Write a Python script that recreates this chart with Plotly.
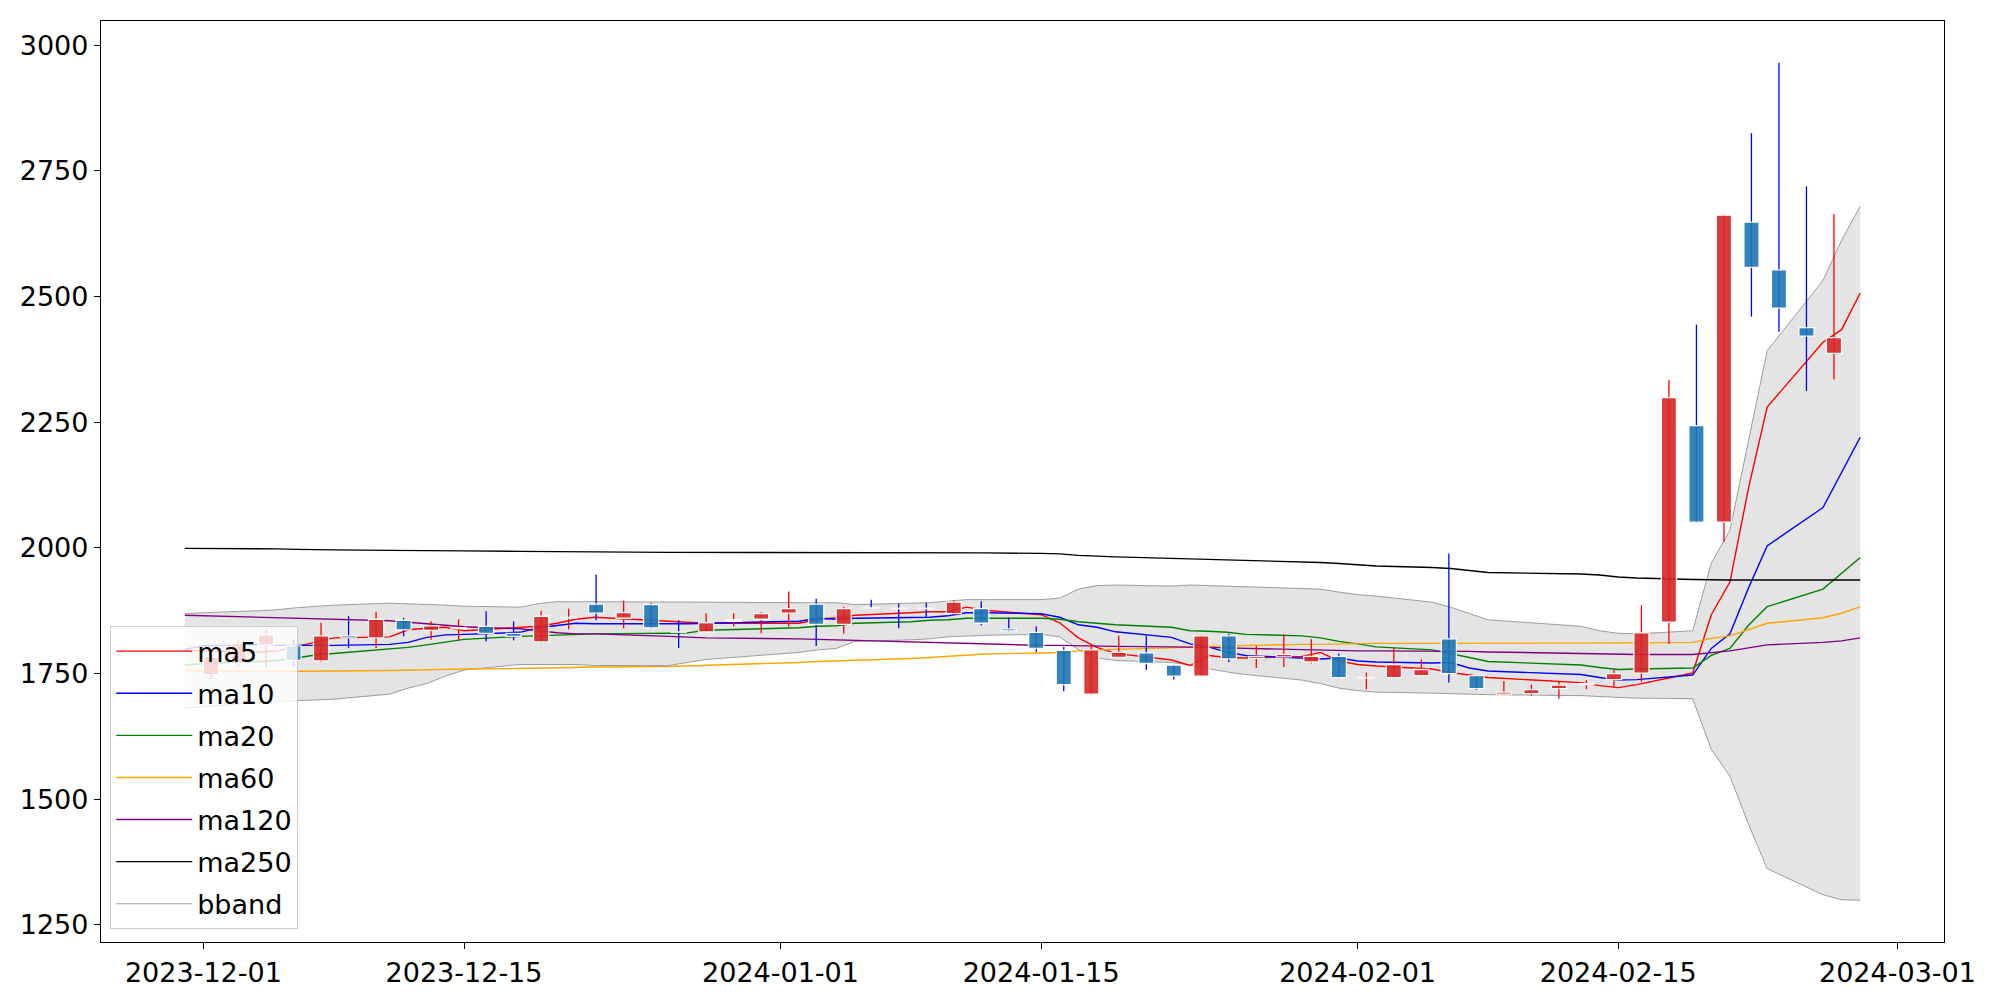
import plotly.graph_objects as go

# ---------------- data ----------------
dates = [
    "2023-11-30", "2023-12-01", "2023-12-04", "2023-12-05", "2023-12-06", "2023-12-07", "2023-12-08",
    "2023-12-11", "2023-12-12", "2023-12-13", "2023-12-14", "2023-12-15",
    "2023-12-18", "2023-12-19", "2023-12-20", "2023-12-21", "2023-12-22",
    "2023-12-26", "2023-12-27", "2023-12-28",
    "2024-01-02", "2024-01-03", "2024-01-04", "2024-01-05",
    "2024-01-08", "2024-01-09", "2024-01-10", "2024-01-11", "2024-01-12",
    "2024-01-15", "2024-01-16", "2024-01-17", "2024-01-18", "2024-01-19",
    "2024-01-22", "2024-01-23", "2024-01-24", "2024-01-25", "2024-01-26",
    "2024-01-29", "2024-01-30", "2024-01-31", "2024-02-01", "2024-02-02",
    "2024-02-05", "2024-02-06", "2024-02-07", "2024-02-08",
    "2024-02-13", "2024-02-14", "2024-02-15", "2024-02-16",
    "2024-02-19", "2024-02-20", "2024-02-21", "2024-02-22", "2024-02-23",
    "2024-02-26", "2024-02-27", "2024-02-28",
]

open_ = [1748, 1770, 1807, 1805, 1775, 1825, 1821, 1856, 1836, 1839,
         1844, 1830, 1813, 1860, 1888, 1860, 1887, 1833, 1833, 1854,
         1858, 1870, 1888, 1848, 1881, 1880, 1880, 1869, 1879, 1839,
         1832, 1796, 1709, 1782, 1791, 1767, 1745, 1825, 1780, 1783,
         1773, 1784, 1741, 1742, 1746, 1819, 1746, 1709, 1710, 1720,
         1728, 1738, 1751, 1852, 2243, 2051, 2648, 2553, 2438, 2387]
high = [1786, 1818, 1837, 1818, 1851, 1864, 1873, 1861, 1854, 1858,
        1874, 1854, 1875, 1879, 1947, 1895, 1890, 1856, 1870, 1870,
        1872, 1913, 1899, 1883, 1897, 1889, 1891, 1896, 1894, 1861,
        1844, 1803, 1808, 1825, 1825, 1768, 1826, 1829, 1805, 1828,
        1818, 1790, 1752, 1801, 1778, 1989, 1747, 1735, 1728, 1734,
        1737, 1758, 1886, 2334, 2444, 2663, 2825, 2965, 2719, 2664]
low = [1739, 1765, 1763, 1765, 1773, 1801, 1801, 1824, 1817, 1816,
       1814, 1816, 1812, 1838, 1856, 1840, 1840, 1801, 1833, 1844,
       1830, 1843, 1805, 1829, 1880, 1840, 1861, 1865, 1846, 1834,
       1793, 1715, 1709, 1781, 1757, 1738, 1744, 1773, 1761, 1763,
       1770, 1742, 1719, 1742, 1746, 1732, 1717, 1709, 1706, 1700,
       1719, 1723, 1734, 1809, 2050, 2012, 2460, 2430, 2312, 2335]
close = [1783, 1809, 1827, 1776, 1825, 1821, 1858, 1837, 1845, 1841,
         1830, 1824, 1864, 1862, 1870, 1871, 1841, 1832, 1851, 1857,
         1869, 1879, 1848, 1879, 1880, 1879, 1879, 1892, 1850, 1835,
         1800, 1728, 1797, 1792, 1770, 1745, 1825, 1779, 1784, 1788,
         1784, 1742, 1742, 1768, 1758, 1750, 1720, 1713, 1718, 1727,
         1730, 1750, 1831, 2299, 2051, 2662, 2558, 2477, 2421, 2418]

ma5 = [1796, 1795, 1793, 1795, 1804, 1812, 1821, 1823, 1837, 1840,
       1842, 1835, 1841, 1844, 1850, 1858, 1862, 1855, 1853, 1850,
       1850, 1858, 1861, 1866, 1871, 1873, 1873, 1882, 1876, 1867,
       1851, 1821, 1802, 1790, 1777, 1766, 1786, 1782, 1781, 1784,
       1792, 1775, 1768, 1765, 1759, 1752, 1747, 1742, 1732, 1726,
       1722, 1728, 1751, 1867, 1932, 2119, 2280, 2409, 2434, 2507]
ma10 = [1798, 1805, 1808, 1806, 1806, 1806, 1806, 1808, 1812, 1822,
        1827, 1828, 1832, 1841, 1845, 1850, 1849, 1848, 1849, 1850,
        1854, 1860, 1858, 1860, 1861, 1862, 1865, 1871, 1871, 1869,
        1862, 1847, 1842, 1833, 1822, 1809, 1803, 1792, 1786, 1781,
        1779, 1781, 1775, 1773, 1771, 1772, 1761, 1755, 1748, 1742,
        1737, 1738, 1747, 1800, 1829, 1920, 2004, 2080, 2151, 2220]
ma20 = [1767, 1770, 1774, 1776, 1781, 1787, 1790, 1798, 1802, 1807,
        1812, 1818, 1824, 1825, 1827, 1828, 1829, 1830, 1831, 1836,
        1841, 1844, 1845, 1850, 1853, 1856, 1857, 1860, 1860, 1860,
        1858, 1853, 1850, 1847, 1842, 1835, 1834, 1832, 1828, 1825,
        1821, 1814, 1809, 1803, 1797, 1790, 1782, 1774, 1767, 1762,
        1758, 1759, 1761, 1786, 1800, 1846, 1883, 1918, 1949, 1981]
ma60 = [1756, 1755, 1754, 1754, 1754, 1754, 1755, 1756, 1757, 1757,
        1758, 1759, 1760, 1761, 1762, 1762, 1763, 1764, 1765, 1766,
        1772, 1774, 1775, 1776, 1780, 1782, 1784, 1786, 1789, 1791,
        1792, 1795, 1797, 1798, 1801, 1803, 1804, 1805, 1806, 1808,
        1808, 1809, 1809, 1810, 1810, 1810, 1810, 1810, 1811, 1811,
        1811, 1811, 1812, 1820, 1825, 1838, 1850, 1861, 1870, 1883]
ma120 = [1866, 1865, 1862, 1861, 1860, 1859, 1858, 1855, 1852, 1849,
         1846, 1843, 1839, 1835, 1831, 1829, 1829, 1824, 1822, 1821,
         1819, 1818, 1817, 1815, 1812, 1811, 1810, 1809, 1808, 1806,
         1806, 1805, 1805, 1804, 1803, 1803, 1802, 1801, 1800, 1798,
         1797, 1796, 1795, 1795, 1795, 1794, 1794, 1793, 1790, 1789,
         1788, 1788, 1788, 1792, 1795, 1801, 1807, 1812, 1815, 1821]
ma250 = [1999, 1999, 1998, 1998, 1997, 1997, 1996, 1995, 1995, 1994,
         1994, 1994, 1993, 1993, 1992, 1992, 1992, 1991, 1991, 1991,
         1990, 1990, 1990, 1990, 1990, 1990, 1990, 1990, 1990, 1989,
         1988, 1985, 1983, 1982, 1979, 1978, 1977, 1976, 1975, 1973,
         1971, 1969, 1966, 1964, 1961, 1959, 1955, 1951, 1948, 1946,
         1942, 1940, 1937, 1936, 1936, 1936, 1936, 1936, 1936, 1936]
bb_upper = [1869, 1871, 1875, 1877, 1881, 1884, 1886, 1890, 1889, 1888,
            1886, 1884, 1882, 1889, 1893, 1893, 1893, 1893, 1892, 1892,
            1891, 1891, 1891, 1887, 1890, 1891, 1894, 1897, 1897, 1897,
            1900, 1918, 1925, 1926, 1924, 1926, 1925, 1924, 1923, 1920,
            1918, 1912, 1907, 1904, 1892, 1882, 1870, 1857, 1844, 1835,
            1830, 1829, 1835, 1970, 2035, 2212, 2392, 2532, 2612, 2680]
bb_lower = [1681, 1684, 1692, 1695, 1696, 1697, 1699, 1709, 1721, 1730,
            1745, 1757, 1768, 1768, 1768, 1768, 1766, 1766, 1772, 1778,
            1792, 1797, 1800, 1814, 1817, 1819, 1823, 1825, 1826, 1828,
            1823, 1798, 1781, 1776, 1772, 1767, 1760, 1753, 1748, 1737,
            1730, 1721, 1716, 1713, 1711, 1710, 1709, 1708, 1706, 1704,
            1702, 1701, 1700, 1599, 1546, 1450, 1362, 1310, 1300, 1299]

x_tick_vals = ["2023-12-01", "2023-12-15", "2024-01-01", "2024-01-15",
               "2024-02-01", "2024-02-15", "2024-03-01"]
x_tick_text = x_tick_vals
y_tick_vals = [1250, 1500, 1750, 2000, 2250, 2500, 2750, 3000]
y_tick_text = [str(v) for v in y_tick_vals]

ma_names = ["ma5", "ma10", "ma20", "ma60", "ma120", "ma250"]
ma_series = [ma5, ma10, ma20, ma60, ma120, ma250]
ma_colors = ["red", "blue", "green", "orange", "purple", "black"]

# ---------------- figure ----------------
FONT = "DejaVu Sans"
fig = go.Figure()

# Bollinger band (fill between lower and upper)
fig.add_trace(go.Scatter(x=dates, y=bb_lower, mode="lines",
                         line=dict(color="rgba(128,128,128,0.75)", width=1),
                         showlegend=False, hoverinfo="skip"))
fig.add_trace(go.Scatter(x=dates, y=bb_upper, mode="lines", fill="tonexty",
                         fillcolor="rgba(128,128,128,0.21)",
                         line=dict(color="rgba(128,128,128,0.75)", width=1),
                         showlegend=False, hoverinfo="skip"))

for i, (name, ser, col) in enumerate(zip(ma_names, ma_series, ma_colors)):
    fig.add_trace(go.Scatter(x=dates, y=ser, mode="lines", name=name,
                             line=dict(color=col, width=1.4),
                             legendgroup=name, legendrank=i + 1))

# legend entry for the band
fig.add_trace(go.Scatter(x=[None], y=[None], mode="lines", name="bband",
                         line=dict(color="rgba(128,128,128,0.75)", width=1),
                         legendgroup="bband", legendrank=7))

# candles: wicks on x2, bodies on x3 (both indexed by trading-day number)
idx = list(range(len(dates)))
up = [c >= o for o, c in zip(open_, close)]
wx_up, wy_up, wx_dn, wy_dn = [], [], [], []
for i, o, h, l, c, u in zip(idx, open_, high, low, close, up):
    if u:
        wx_up += [i, i, None]; wy_up += [l, h, None]
    else:
        wx_dn += [i, i, None]; wy_dn += [l, h, None]
fig.add_trace(go.Scatter(x=wx_up, y=wy_up, mode="lines", xaxis="x2",
                         line=dict(color="#ff0000", width=1.3),
                         showlegend=False, hoverinfo="skip"))
fig.add_trace(go.Scatter(x=wx_dn, y=wy_dn, mode="lines", xaxis="x2",
                         line=dict(color="#0000ff", width=1.3),
                         showlegend=False, hoverinfo="skip"))

body_base = [min(o, c) for o, c in zip(open_, close)]
body_h = [abs(c - o) for o, c in zip(open_, close)]
body_col = ["#d62728" if u else "#1f77b4" for u in up]
fig.add_trace(go.Bar(x=idx, y=body_h, base=body_base, xaxis="x3",
                     width=0.55, opacity=0.9,
                     marker=dict(color=body_col, line=dict(color="white", width=1.3)),
                     showlegend=False, hoverinfo="skip"))

axis_common = dict(showline=True, mirror=True, linecolor="black", linewidth=1.3,
                   ticks="outside", ticklen=6, tickwidth=1.2, tickcolor="black",
                   showgrid=False, zeroline=False)

# the page body adds an 8px offset, so the figure is 8px smaller than the window
fig.update_layout(
    width=1992, height=992,
    margin=dict(l=88, r=56, t=12, b=54),
    paper_bgcolor="white", plot_bgcolor="white",
    font=dict(family=FONT, color="black"),
    barmode="overlay",
    xaxis=dict(type="date", range=["2023-11-25 12:00", "2024-03-03 12:00"],
               tickmode="array", tickvals=x_tick_vals, ticktext=x_tick_text,
               tickfont=dict(size=27, family=FONT, color="black"), **axis_common),
    xaxis2=dict(overlaying="x", anchor="y", range=[-4, 63], visible=False),
    xaxis3=dict(overlaying="x", anchor="y", range=[-4, 63], visible=False),
    yaxis=dict(range=[1216, 3048], tickmode="array", tickvals=y_tick_vals,
               ticktext=y_tick_text,
               tickfont=dict(size=27, family=FONT, color="black"), **axis_common),
    legend=dict(x=0.005, y=0.014, xanchor="left", yanchor="bottom",
                bgcolor="rgba(255,255,255,0.8)", bordercolor="#cccccc", borderwidth=1,
                font=dict(size=27, family=FONT, color="black"),
                tracegroupgap=4, traceorder="grouped", itemwidth=76),
    showlegend=True,
)

fig.write_html("out.html")
